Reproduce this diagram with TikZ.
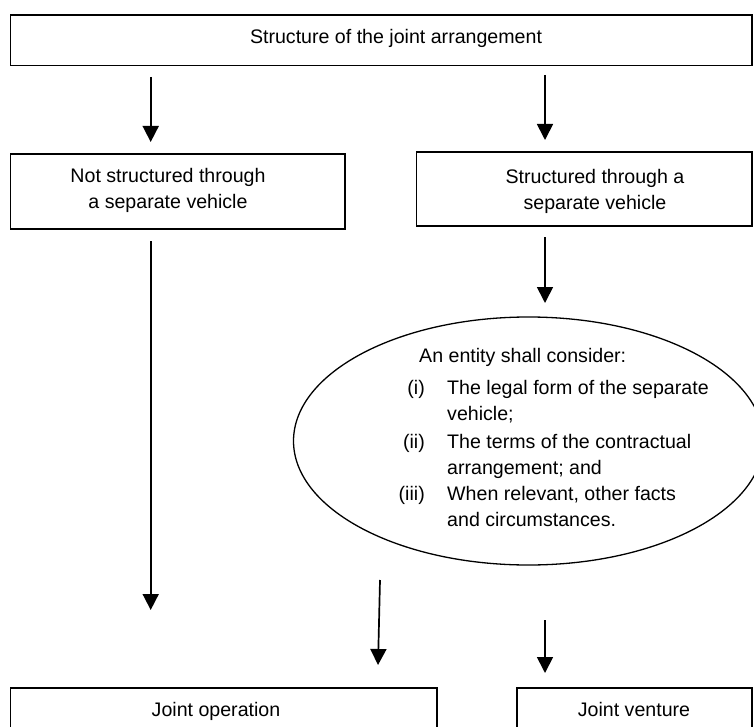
\documentclass[tikz,border=0pt]{standalone}
\usepackage{fontspec}
\setmainfont{Liberation Sans}
\usetikzlibrary{arrows.meta,shapes.geometric}
\begin{document}
\begin{tikzpicture}[x=1pt,y=-1pt,
  box/.style={draw, line width=1.5pt, inner sep=0pt},
  topbox/.style={draw, line width=1.3pt, inner sep=0pt},
  txt/.style={anchor=base, inner sep=0pt, font=\fontsize{19.6}{26}\selectfont},
  txtw/.style={anchor=base west, inner sep=0pt, font=\fontsize{19.6}{26}\selectfont},
  txte/.style={anchor=base east, inner sep=0pt, font=\fontsize{19.6}{26}\selectfont},
  arr/.style={line width=1.7pt, -{Triangle[length=16pt,width=16pt]}}]
\clip (0,0) rectangle (754,727);
\fill[white] (0,0) rectangle (754,727);
% boxes
\node[topbox, minimum width=741.3pt, minimum height=50.5pt] (top) at (381.35,40.25) {};
\node[box, minimum width=334.3pt, minimum height=75pt] (left) at (177.85,191.5) {};
\node[box, minimum width=335.3pt, minimum height=74pt] (right) at (584.35,189) {};
\node[box, minimum width=426.3pt, minimum height=60pt] (jo) at (223.85,718) {};
\node[box, minimum width=235pt, minimum height=60pt] (jv) at (634.5,718) {};
\node[draw, ellipse, line width=1.3pt, minimum width=470pt, minimum height=248pt, inner sep=0pt] (ell) at (528.5,441) {};
% texts
\node[txt] (ttop) at (396,43.3) {Structure of the joint arrangement};
\node[txt] (tl1) at (168,182.7) {Not structured through};
\node[txt] (tl2) at (168,208.3) {a separate vehicle};
\node[txt] (tr1) at (595,184) {Structured through a};
\node[txt] (tr2) at (595,210) {separate vehicle};
\node[txt] (tjo) at (216,716.5) {Joint operation};
\node[txt] (tjv) at (634,716.5) {Joint venture};
\node[txtw] (e0) at (419,362) {An entity shall consider:};
\node[txte] (l1) at (425,394) {(i)};
\node[txtw] (e1a) at (447,394) {The legal form of the separate};
\node[txtw] (e1b) at (447,420) {vehicle;};
\node[txte] (l2) at (425,448) {(ii)};
\node[txtw] (e2a) at (447,448) {The terms of the contractual};
\node[txtw] (e2b) at (447,474) {arrangement; and};
\node[txte] (l3) at (425,500) {(iii)};
\node[txtw] (e3a) at (447,500) {When relevant, other facts};
\node[txtw] (e3b) at (447,526) {and circumstances.};
% arrow end points
\coordinate (a1s) at (150.7,77);  \coordinate (a1e) at (150.7,142);
\coordinate (a2s) at (545,75);    \coordinate (a2e) at (545,140);
\coordinate (a3s) at (545,237);   \coordinate (a3e) at (545,303);
\coordinate (a4s) at (150.7,241); \coordinate (a4e) at (150.7,610);
\coordinate (a5s) at (380,580);   \coordinate (a5e) at (378,665);
\coordinate (a6s) at (545,620);   \coordinate (a6e) at (545,673);
\draw[arr] (a1s) -- (a1e);
\draw[arr] (a2s) -- (a2e);
\draw[arr] (a3s) -- (a3e);
\draw[arr] (a4s) -- (a4e);
\draw[arr] (a5s) -- (a5e);
\draw[arr] (a6s) -- (a6e);
\end{tikzpicture}
\end{document}
